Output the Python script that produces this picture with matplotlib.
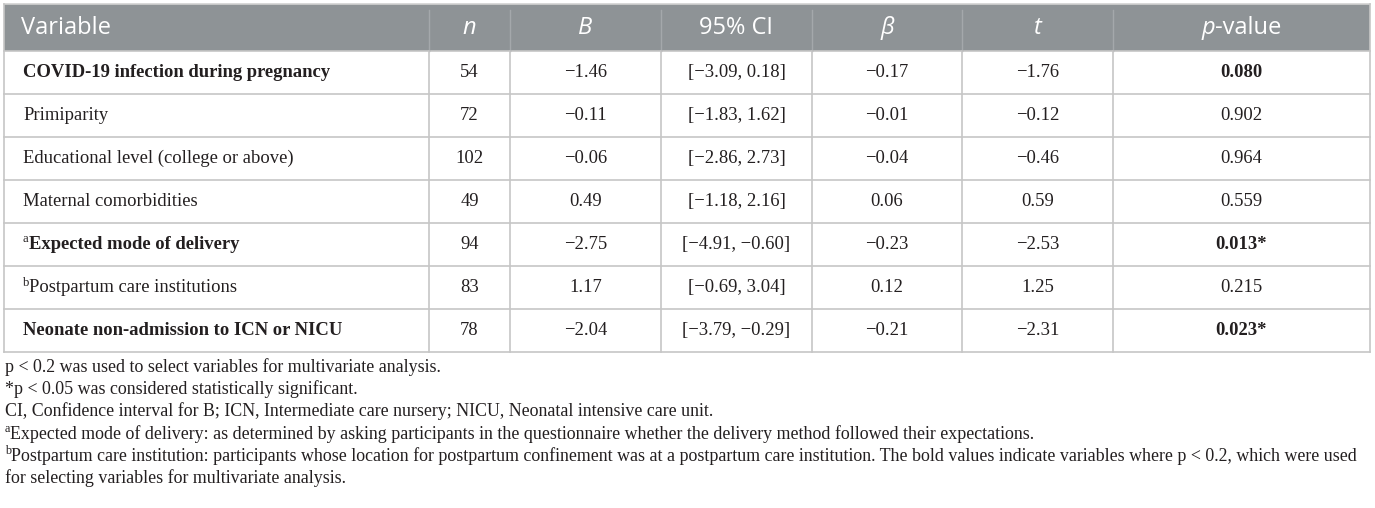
import matplotlib
matplotlib.use("Agg")
import matplotlib.pyplot as plt
from matplotlib.patches import Rectangle

# ---------------- data ----------------
variables = ["COVID-19 infection during pregnancy", "Primiparity",
             "Educational level (college or above)", "Maternal comorbidities",
             "Expected mode of delivery", "Postpartum care institutions",
             "Neonate non-admission to ICN or NICU"]
var_sup = ["", "", "", "", "a", "b", ""]
var_bold = [True, False, False, False, True, False, True]
n_vals = ["54", "72", "102", "49", "94", "83", "78"]
B_vals = ["\u22121.46", "\u22120.11", "\u22120.06", "0.49", "\u22122.75", "1.17", "\u22122.04"]
ci_vals = ["[\u22123.09, 0.18]", "[\u22121.83, 1.62]", "[\u22122.86, 2.73]", "[\u22121.18, 2.16]",
           "[\u22124.91, \u22120.60]", "[\u22120.69, 3.04]", "[\u22123.79, \u22120.29]"]
beta_vals = ["\u22120.17", "\u22120.01", "\u22120.04", "0.06", "\u22120.23", "0.12", "\u22120.21"]
t_vals = ["\u22121.76", "\u22120.12", "\u22120.46", "0.59", "\u22122.53", "1.25", "\u22122.31"]
p_vals = ["0.080", "0.902", "0.964", "0.559", "0.013*", "0.215", "0.023*"]
p_bold = [True, False, False, False, True, False, True]

footnotes = [
    ("", "p < 0.2 was used to select variables for multivariate analysis."),
    ("", "*p < 0.05 was considered statistically significant."),
    ("", "CI, Confidence interval for B; ICN, Intermediate care nursery; NICU, Neonatal intensive care unit."),
    ("a", "Expected mode of delivery: as determined by asking participants in the questionnaire whether the delivery method followed their expectations."),
    ("b", "Postpartum care institution: participants whose location for postpartum confinement was at a postpartum care institution. The bold values indicate variables where p < 0.2, which were used"),
    ("", "for selecting variables for multivariate analysis."),
]

# ---------------- layout ----------------
W, H = 1375, 508
fig = plt.figure(figsize=(W / 100, H / 100), dpi=100)
ax = fig.add_axes([0, 0, 1, 1])
ax.set_xlim(0, W)
ax.set_ylim(H, 0)
ax.axis("off")
renderer = fig.canvas.get_renderer()

col_x = [4, 429, 510, 661, 812, 962, 1113, 1370]
top, head_bot, row_h = 4, 51, 43
nrows = len(variables)
bottom = head_bot + nrows * row_h

HEAD_BG = "#8e9396"
GRID = "#c6c6c6"
TXT = "#231f20"
SERIF = "Liberation Serif"
SANS = "Open Sans"
head_fs = 17.0
body_fs = 13.4
foot_fs = 12.9

ax.add_patch(Rectangle((col_x[0], top), col_x[-1] - col_x[0], head_bot - top,
                       facecolor=HEAD_BG, edgecolor="none", zorder=1))
# horizontal lines
ax.plot([col_x[0], col_x[-1]], [top, top], color="#d2d2d2", lw=1.2, zorder=3)
for i in range(nrows + 1):
    y = head_bot + i * row_h
    ax.plot([col_x[0], col_x[-1]], [y, y], color=GRID, lw=1.2, zorder=3)
# vertical lines
for j, x in enumerate(col_x):
    if j in (0, len(col_x) - 1):
        ax.plot([x, x], [top, bottom], color=GRID, lw=1.2, zorder=3)
    else:
        ax.plot([x, x], [top + 6, head_bot], color="#a4a8ab", lw=1.0, zorder=3)
        ax.plot([x, x], [head_bot, bottom], color=GRID, lw=1.2, zorder=3)


def width_px(t):
    bb = t.get_window_extent(renderer=renderer)
    return bb.width


def pieces(x, y, parts, ha="left"):
    """parts: list of (text, dict of kwargs, dy)"""
    arts = []
    total = 0
    for txt, kw, dy in parts:
        a = ax.text(0, 0, txt, va="center", ha="left", **kw)
        w = width_px(a)
        arts.append((a, w, dy))
        total += w
    cx = x - total / 2 if ha == "center" else x
    for a, w, dy in arts:
        a.set_position((cx, y + dy))
        cx += w


# header
hy = (top + head_bot) / 2 + 1
hkw = dict(family=SANS, fontsize=head_fs, color="white", fontweight="normal")
ax.text(21, hy, "Variable", va="center", ha="left", **hkw)
centers = [(col_x[j] + col_x[j + 1]) / 2 for j in range(1, 7)]
ax.text(centers[0], hy, "n", va="center", ha="center", style="italic", **hkw)
ax.text(centers[1], hy, "B", va="center", ha="center", style="italic", **hkw)
ax.text(centers[2], hy, "95% CI", va="center", ha="center", **hkw)
ax.text(centers[3], hy, "\u03b2", va="center", ha="center", style="italic", **hkw)
ax.text(centers[4], hy, "t", va="center", ha="center", style="italic", **hkw)
pieces(centers[5], hy, [("p", dict(style="italic", **hkw), 0), ("-value", hkw, 0)], ha="center")

# body
for i in range(nrows):
    y = head_bot + (i + 0.5) * row_h
    bkw = dict(family=SERIF, fontsize=body_fs, color=TXT)
    wt = "bold" if var_bold[i] else "normal"
    parts = []
    if var_sup[i]:
        parts.append((var_sup[i], dict(family=SERIF, fontsize=body_fs * 0.68, color=TXT), -5))
    parts.append((variables[i], dict(fontweight=wt, **bkw), 0))
    pieces(23, y, parts)
    cols = [n_vals[i], B_vals[i], ci_vals[i], beta_vals[i], t_vals[i]]
    for j, v in enumerate(cols):
        ax.text(centers[j], y, v, va="center", ha="center", **bkw)
    ax.text(centers[5], y, p_vals[i], va="center", ha="center",
            fontweight="bold" if p_bold[i] else "normal", **bkw)

# footnotes
fy0, fdy = 367, 22.2
for k, (sup, txt) in enumerate(footnotes):
    y = fy0 + k * fdy
    fkw = dict(family=SERIF, fontsize=foot_fs, color=TXT)
    parts = []
    if sup:
        parts.append((sup, dict(family=SERIF, fontsize=foot_fs * 0.68, color=TXT), -5))
    parts.append((txt, fkw, 0))
    pieces(5, y, parts)

fig.savefig("out.png", dpi=100, facecolor="white")
